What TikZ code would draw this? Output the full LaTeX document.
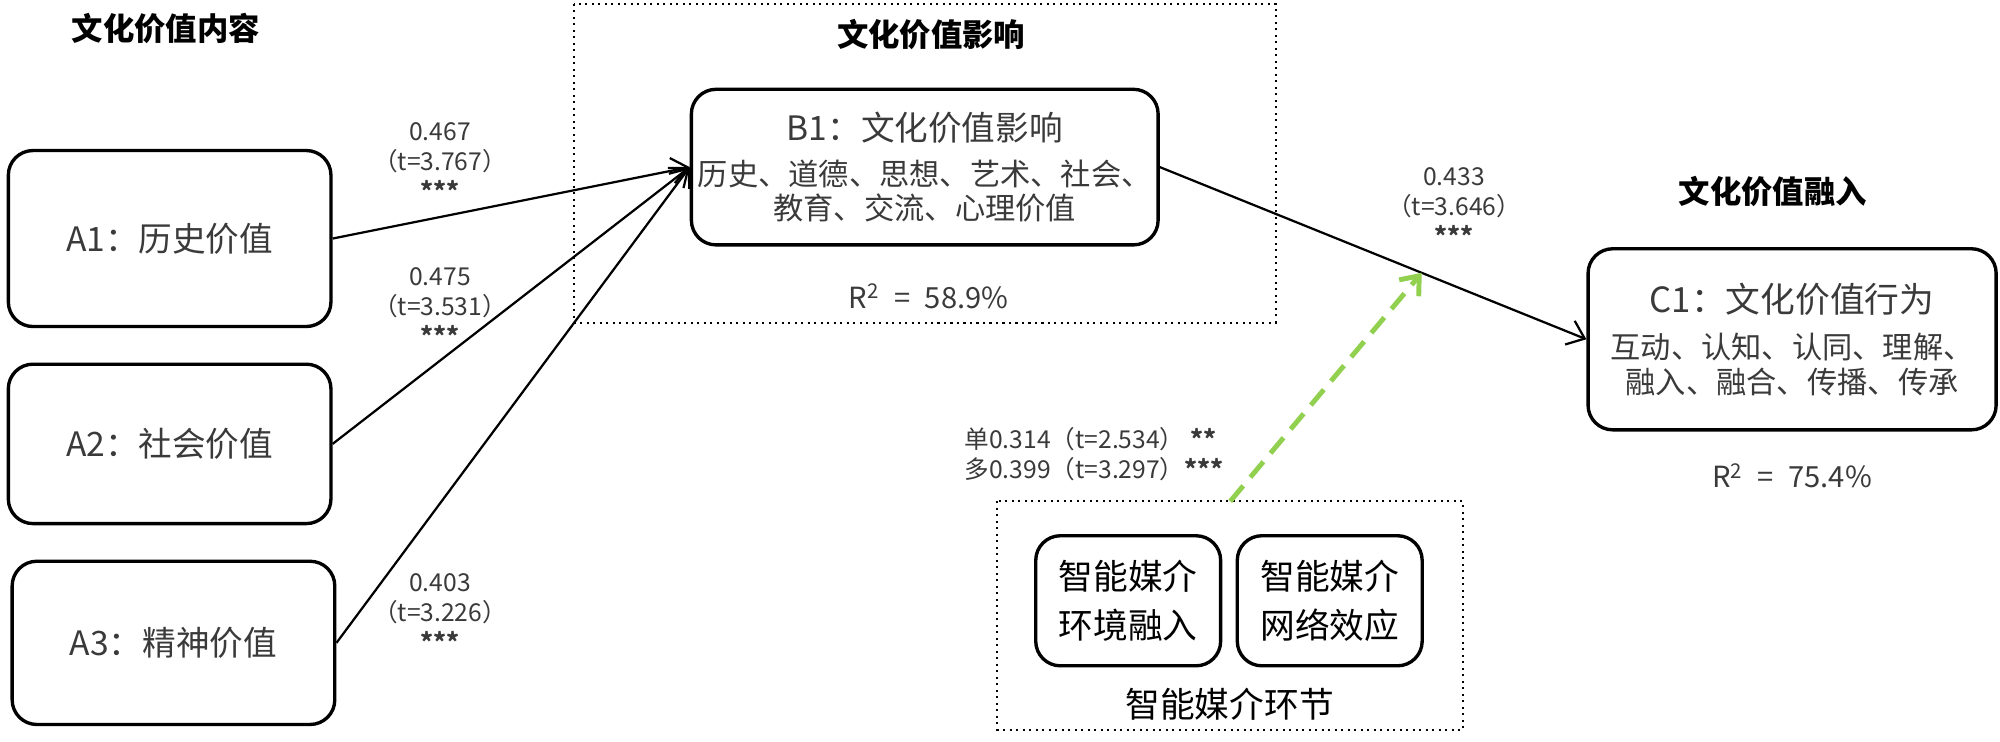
\documentclass[tikz,border=0pt]{standalone}
\usepackage{fontspec}
\setmainfont{Noto Sans CJK SC}
\usepackage{xcolor}
\usepackage{tikz}
\usetikzlibrary{arrows.meta,positioning}
\definecolor{ink}{HTML}{000000}
\definecolor{grey}{HTML}{3A3A3A}
\definecolor{leaf}{HTML}{92D050}
\tikzset{
  box/.style={draw=ink, line width=1.5pt, rounded corners=11pt, align=center, inner sep=0pt},
  valbox/.style={box, minimum width=5.06cm, text=grey, font=\fontsize{15}{18}\selectfont},
  detbox/.style={box, text=grey, font=\fontsize{13.5}{15.5}\selectfont},
  medbox/.style={box, minimum width=2.9cm, minimum height=2.04cm, font=\fontsize{15.5}{21.5}\selectfont},
  grp/.style={draw=ink, line width=0.9pt, dotted},
  link/.style={draw=ink, line width=1.0pt, -{Straight Barb[length=2.5mm,width=4mm]}},
  mod/.style={draw=leaf, line width=2.2pt, dash pattern=on 9pt off 5pt, -{Straight Barb[length=2.5mm,width=4mm]}},
  ttl/.style={font=\fontsize{14}{16}\selectfont\bfseries},
  coef/.style={text=grey, align=center, font=\fontsize{11}{13.4}\selectfont},
  rsq/.style={text=grey, font=\fontsize{13}{15}\selectfont},
}

\begin{document}
\begin{tikzpicture}[x=0.02cm,y=-0.02cm]
  \useasboundingbox (0,0) rectangle (1568,581.7);
  % groups
  \draw[grp] (450,3) rectangle (1000,253);
  \draw[grp] (782,393) rectangle (1147,572);
  \coordinate (env) at (964.5,393);
  % titles
  \node[ttl] at (130,22) {文化价值内容};
  \node[ttl] at (730,27) {文化价值影响};
  \node[ttl] at (1390,150) {文化价值融入};
  \node[font=\fontsize{15.5}{18}\selectfont] at (964,552) {智能媒介环节};
  % value boxes
  \foreach \N/\X/\Y/\H/\T in {A1/133/187/2.76/历史价值, A2/133/348/2.5/社会价值, A3/136/504/2.56/精神价值}
    \node[valbox, minimum height=\H cm] (\N) at (\X,\Y) {\N：\T};
  \node[detbox, minimum width=7.32cm, minimum height=2.44cm] (B1) at (725,131)
    {{\fontsize{15}{18}\selectfont B1：文化价值影响}\\[4.5pt]
     历史、道德、思想、艺术、社会、\\
     教育、交流、心理价值};
  \node[detbox, minimum width=6.4cm, minimum height=2.84cm] (C1) at (1405,266)
    {{\fontsize{15.5}{18}\selectfont C1：文化价值行为}\\[5pt]
     互动、认知、认同、理解、\\
     融入、融合、传播、传承};
  \node[medbox] (E1) at (884.5,471) {智能媒介\\环境融入};
  \node[medbox] (E2) at (1042.5,471) {智能媒介\\网络效应};
  % paths
  \foreach \N in {A1,A2,A3}
    \draw[link] (\N.east) -- (B1.west);
  \draw[link] (B1.east) -- coordinate[pos=0.614] (hit) (C1.west);
  \draw[mod] (env) -- (hit);
  % coefficients
  \node[coef] at (345,127) {0.467\\（t=3.767）\\\textbf{***}};
  \node[coef] at (345,240) {0.475\\（t=3.531）\\\textbf{***}};
  \node[coef] at (345,480) {0.403\\（t=3.226）\\\textbf{***}};
  \node[coef] at (1140,162) {0.433\\（t=3.646）\\\textbf{***}};
  \node[coef, align=left, anchor=west] at (750,356)
    {单0.314（t=2.534）\ \textbf{**}\\多0.399（t=3.297）\textbf{***}};
  \node[rsq] at (728,232) {R\textsuperscript{2}\enspace=\enspace58.9\%};
  \node[rsq] at (1405,373) {R\textsuperscript{2}\enspace=\enspace75.4\%};
\end{tikzpicture}
\end{document}
